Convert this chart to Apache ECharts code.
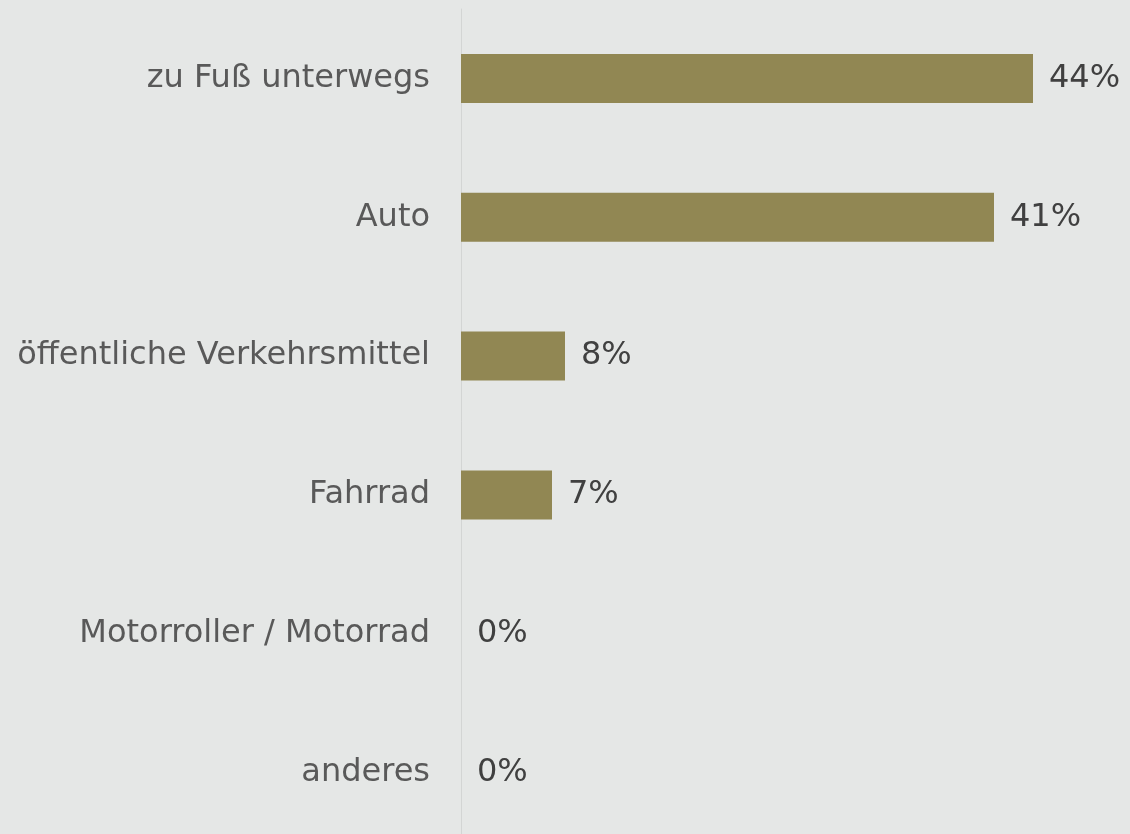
<!DOCTYPE html>
<html>
<head>
<meta charset="utf-8">
<script src="https://cdn.jsdelivr.net/npm/echarts@6/dist/echarts.min.js"></script>
<style>
  html, body { margin: 0; padding: 0; background: #e5e7e6; }
  #chart { width: 1130px; height: 834px; }
</style>
</head>
<body>
<div id="chart"></div>
<script>
// Top to bottom, as in the picture.
const categories = [
  'zu Fuß unterwegs',
  'Auto',
  'öffentliche Verkehrsmittel',
  'Fahrrad',
  'Motorroller / Motorrad',
  'anderes',
];
const shares = [44, 41, 8, 7, 0, 0];

const chart = echarts.init(document.getElementById('chart'), null, { renderer: 'canvas' });

const FONT = '"DejaVu Sans", Verdana, sans-serif';

chart.setOption({
  animation: false,
  backgroundColor: '#e5e7e6',
  // Grid runs slightly past the bottom edge, like the source.
  grid: {
    left: 461,
    top: 9,
    width: 650,
    height: 833,
    containLabel: false,
    outerBoundsMode: 'none',
  },
  xAxis: {
    type: 'value',
    min: 0,
    max: 50,
    show: false,
  },
  yAxis: {
    type: 'category',
    inverse: true,
    data: categories,
    axisLine: { show: true, lineStyle: { color: '#d3d5d4', width: 1 } },
    axisTick: { show: false },
    splitLine: { show: false },
    axisLabel: {
      margin: 31,
      color: '#595959',
      fontFamily: FONT,
      fontSize: 32,
    },
  },
  series: [
    {
      type: 'bar',
      data: shares,
      barWidth: 49,
      itemStyle: { color: '#918753' },
      label: {
        show: true,
        position: 'right',
        distance: 16,
        color: '#404040',
        fontFamily: FONT,
        fontSize: 32,
        formatter: (p) => p.value + '%',
      },
    },
  ],
});
</script>
</body>
</html>
